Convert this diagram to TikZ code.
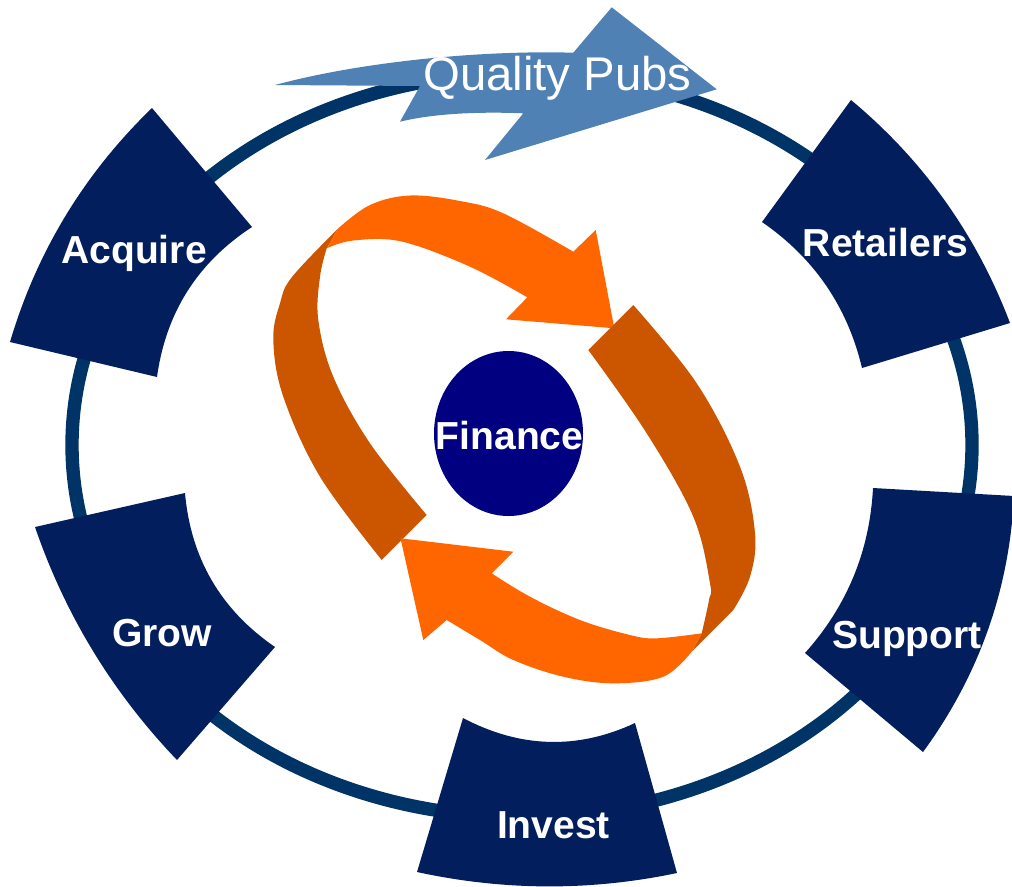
\documentclass[tikz,border=0pt]{standalone}
\usepackage{fontspec}
\setmainfont{Liberation Sans}
\definecolor{ringblue}{RGB}{0,51,102}
\definecolor{stagenavy}{RGB}{3,30,92}
\definecolor{pubsblue}{RGB}{79,129,181}
\definecolor{cyclelight}{RGB}{255,102,0}
\definecolor{cycledark}{RGB}{204,85,0}
\definecolor{financenavy}{RGB}{0,0,128}

\begin{document}
\begin{tikzpicture}[x=0.75pt, y=-0.75pt,
        stage/.style={fill=stagenavy},
        stagetext/.style={text=white, anchor=base, inner sep=0pt, font=\fontsize{29.3}{34}\selectfont\bfseries},
        every plot/.style={smooth, tension=0.6}]
        \useasboundingbox (0,0) rectangle (1012,886);
        \clip (0,0) rectangle (1012,886);
        \draw[ringblue, line width=10pt] (522,445) ellipse [x radius=450, y radius=372];

        \fill[stage] (10,342) .. controls (36.8,251.6) and (84.2,173.6) .. (152,108) -- (252,227)
          .. controls (197.5,262.6) and (165.9,312.6) .. (157,377) -- cycle;
        \fill[stage] (851,100) .. controls (923.5,160.4) and (976.5,234.8) .. (1010,323) -- (862,368)
          .. controls (847.4,306.5) and (814,257.9) .. (762,222) -- cycle;
        \fill[stage] (873,488) -- (1014,496) .. controls (1009.2,590.3) and (978.8,675.7) .. (923,752) -- (805,653)
          .. controls (847.1,606) and (869.7,551) .. (873,488) -- cycle;
        \fill[stage] (463,718) .. controls (520.3,748.2) and (577.7,749.8) .. (635,723) -- (677,873)
          .. controls (590.3,891.2) and (503.7,890.8) .. (417,872) -- cycle;
        \fill[stage] (185,493) .. controls (190.8,558.4) and (220.8,609.8) .. (275,647) -- (177,760)
          .. controls (112.7,692.8) and (65.3,615.2) .. (35,527) -- cycle;

        \node[stagetext] (acquire) at (134,263) {Acquire};
        \node[stagetext] (retailers) at (885.5,256.7) {Retailers};
        \node[stagetext] (support) at (907,648) {Support};
        \node[stagetext] (invest) at (553.5,838) {Invest};
        \node[stagetext] (grow) at (162,646) {Grow};

        \fill[pubsblue] (275,85) -- (420,86) -- (400,121.7) .. controls (440,112) and (490,112) .. (523.3,113.3)
          -- (485,160) -- (716.7,89.3) -- (611.7,7.3) -- (573.3,52.7)
          .. controls (480,50) and (360,62) .. (275,85) -- cycle;
        \node[text=white, anchor=base, inner sep=0pt, font=\fontsize{35.5}{40}\selectfont] (pubs) at (557.5,90) {Quality Pubs};

        \fill[cycledark] (381.7,560)
          -- plot coordinates {(381.7,560) (320,476.7) (283.3,396.7) (273.3,340) (280,303.3) (292,277) (338.3,228.3)}
          -- (326.7,248.3)
          -- plot coordinates {(326.7,248.3) (320,276.7) (318.3,320) (333.3,376.7) (370,443.3) (426.7,515)}
          -- cycle;
        \fill[cyclelight] (338.3,228.3)
          -- plot coordinates {(338.3,228.3) (370,205) (410,195.5) (460,201) (503.3,213.3) (573.3,251.7)}
          -- (595.7,230) -- (614.3,328.3) -- (506,319.3) -- (527.3,297.3)
          -- plot coordinates {(527.3,297.3) (470,266.7) (401.5,241.5) (353.3,240.5) (326.7,248.3)}
          -- cycle;

        \fill[cycledark] (633.3,305)
          -- plot coordinates {(633.3,305) (696.7,383.3) (740,466.7) (755,533.3) (750,576.7) (733.3,610)}
          -- (691.7,651.7) -- (701.7,633.3)
          -- plot coordinates {(701.7,633.3) (709,600) (710,583.3) (693.3,516.7) (646.7,433.3) (588.3,350)}
          -- cycle;
        \fill[cyclelight] (691.7,651.7)
          -- plot coordinates {(691.7,651.7) (663.3,676.7) (613.3,683.3) (563.3,676.7) (513.3,660) (480,640) (446.7,620)}
          -- (423.3,640) -- (400.5,538.3) -- (513.3,551.7) -- (491.7,573.3)
          -- plot coordinates {(491.7,573.3) (530,596.7) (580,620) (630,635) (656.7,638.3) (701.7,633.3)}
          -- cycle;

        \fill[financenavy] (508.5,433.5) ellipse [x radius=74.5, y radius=82.5];
        \node[stagetext] (finance) at (509.5,449) {Finance};
      \end{tikzpicture}
\end{document}
